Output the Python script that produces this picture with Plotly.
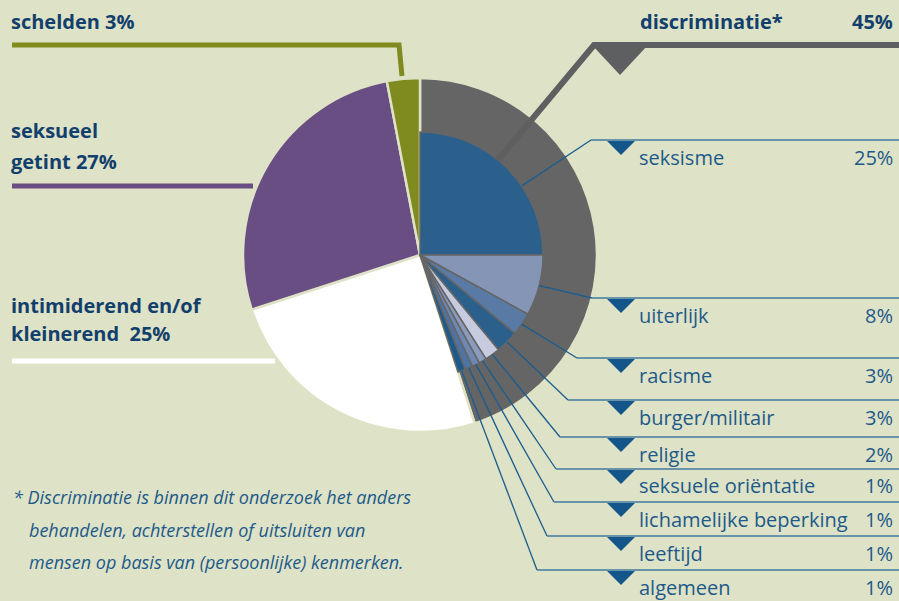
import math
import plotly.graph_objects as go

W, H = 899, 601
BG = "#dee2c6"
NAVY = "#123f6c"
BLUE_TXT = "#1d5a8a"

# main categories (percent of all incidents)
main_labels = ["discriminatie*", "intimiderend en/of kleinerend", "seksueel getint", "schelden"]
main_values = [45, 25, 27, 3]
main_colors = ["#656565", "#ffffff", "#684e82", "#7f8b1f"]

# breakdown of discriminatie (percent of all incidents)
sub_labels = ["seksisme", "uiterlijk", "racisme", "burger/militair", "religie",
              "seksuele oriëntatie", "lichamelijke beperking", "leeftijd", "algemeen"]
sub_values = [25, 8, 3, 3, 2, 1, 1, 1, 1]
sub_colors = ["#2b5f8c", "#8595b6", "#5a7aa6", "#2b5f8c", "#c6cbe0",
              "#8a9bbd", "#6f88b2", "#4f73a3", "#1d5a8c"]

footnote = ["* Discriminatie is binnen dit onderzoek het anders",
            "behandelen, achterstellen of uitsluiten van",
            "mensen op basis van (persoonlijke) kenmerken."]

# geometry in pixels
CX, CY = 420, 255
R_OUT, R_IN = 177, 123
row_y = [140, 298, 358, 400, 437, 469, 502, 536, 570]
elbow_x = [591, 592, 577, 568, 560, 556, 554, 547, 537]


def px(x):
    return x / W


def py(y):
    return 1 - y / H


def dom(r):
    return dict(x=[px(CX - r), px(CX + r)], y=[py(CY + r), py(CY - r)])


fig = go.Figure()

fig.add_trace(go.Pie(
    labels=main_labels, values=main_values, sort=False, direction="clockwise",
    rotation=0, domain=dom(R_OUT), textinfo="none", hoverinfo="label+percent",
    marker=dict(colors=main_colors, line=dict(color=BG, width=2.5)),
    showlegend=False,
))

rest = 100 - sum(sub_values)
fig.add_trace(go.Pie(
    labels=sub_labels + ["rest"], values=sub_values + [rest], sort=False,
    direction="clockwise", rotation=0, domain=dom(R_IN), textinfo="none",
    hoverinfo="label+percent",
    marker=dict(colors=sub_colors + ["rgba(0,0,0,0)"],
                line=dict(color=["#666666"] * len(sub_values) + ["rgba(0,0,0,0)"],
                          width=[1.5] * len(sub_values) + [0])),
    showlegend=False,
))

shapes = []
annotations = []


def text(x, y, s, size=20, color=BLUE_TXT, bold=False, italic=False, anchor="left"):
    annotations.append(dict(
        x=px(x), y=py(y), xref="paper", yref="paper", text=s, showarrow=False,
        xanchor=anchor, yanchor="middle",
        font=dict(family="Open Sans", size=size, color=color,
                  weight="bold" if bold else "normal",
                  style="italic" if italic else "normal"),
    ))


def path(points, color, width, fill=None):
    d = "M " + " L ".join(f"{px(x)},{py(y)}" for x, y in points)
    if fill:
        d += " Z"
    shapes.append(dict(type="path", xref="paper", yref="paper", path=d,
                       line=dict(color=color, width=width),
                       fillcolor=fill if fill else "rgba(0,0,0,0)"))


def tri(x, y, w, h, color):
    path([(x - w / 2, y), (x + w / 2, y), (x, y + h)], color, 0, fill=color)


# leader lines for the discriminatie breakdown
cum = 0
for i, (lab, v) in enumerate(zip(sub_labels, sub_values)):
    a = cum + v / 2
    if i == 0:
        a = 15.5  # anchor seksisme a bit lower in its slice
    cum += v
    ang = math.radians(a * 3.6)
    sx = CX + R_IN * math.sin(ang)
    sy = CY - R_IN * math.cos(ang)
    ey = row_y[i]
    path([(sx, sy), (elbow_x[i], ey)], "#1b5d8e", 1.3)
    path([(elbow_x[i], ey), (W, ey)], "#3f7a9e", 1.5)
    tri(621, ey + 1, 28, 14, "#14568a")
    text(637, ey + 17, lab)
    text(895, ey + 17, f"{v}%", anchor="right")

# discriminatie leader
path([(498, 160), (594, 45), (W, 45)], "#5d5f61", 6)
tri(620, 45, 56, 30, "#5d5f61")
text(638, 22, "discriminatie*", size=20, color=NAVY, bold=True)
text(895, 22, f"{main_values[0]}%", size=20, color=NAVY, bold=True, anchor="right")

# left-hand labels
path([(12, 45), (399, 45), (402, 76)], main_colors[3], 5)
text(9, 22, f"schelden {main_values[3]}%", color=NAVY, bold=True)

path([(12, 186), (253, 186)], main_colors[2], 5)
text(9, 130, "seksueel", color=NAVY, bold=True)
text(9, 161, f"getint {main_values[2]}%", color=NAVY, bold=True)

path([(12, 361), (275, 361)], main_colors[1], 5)
text(9, 305, "intimiderend en/of", color=NAVY, bold=True)
text(9, 334, f"kleinerend\u00a0 {main_values[1]}%", color=NAVY, bold=True)

# footnote
text(11, 497, footnote[0], size=18, color=BLUE_TXT, italic=True)
text(27, 530, footnote[1], size=18, color=BLUE_TXT, italic=True)
text(27, 562, footnote[2], size=18, color=BLUE_TXT, italic=True)

fig.update_layout(
    width=W, height=H, margin=dict(l=0, r=0, t=0, b=0),
    paper_bgcolor=BG, plot_bgcolor=BG,
    shapes=shapes, annotations=annotations,
)

fig.write_html(
    "out.html",
    config={"displayModeBar": False},
    post_script=f"document.body.style.margin='0';document.body.style.background='{BG}';",
)
